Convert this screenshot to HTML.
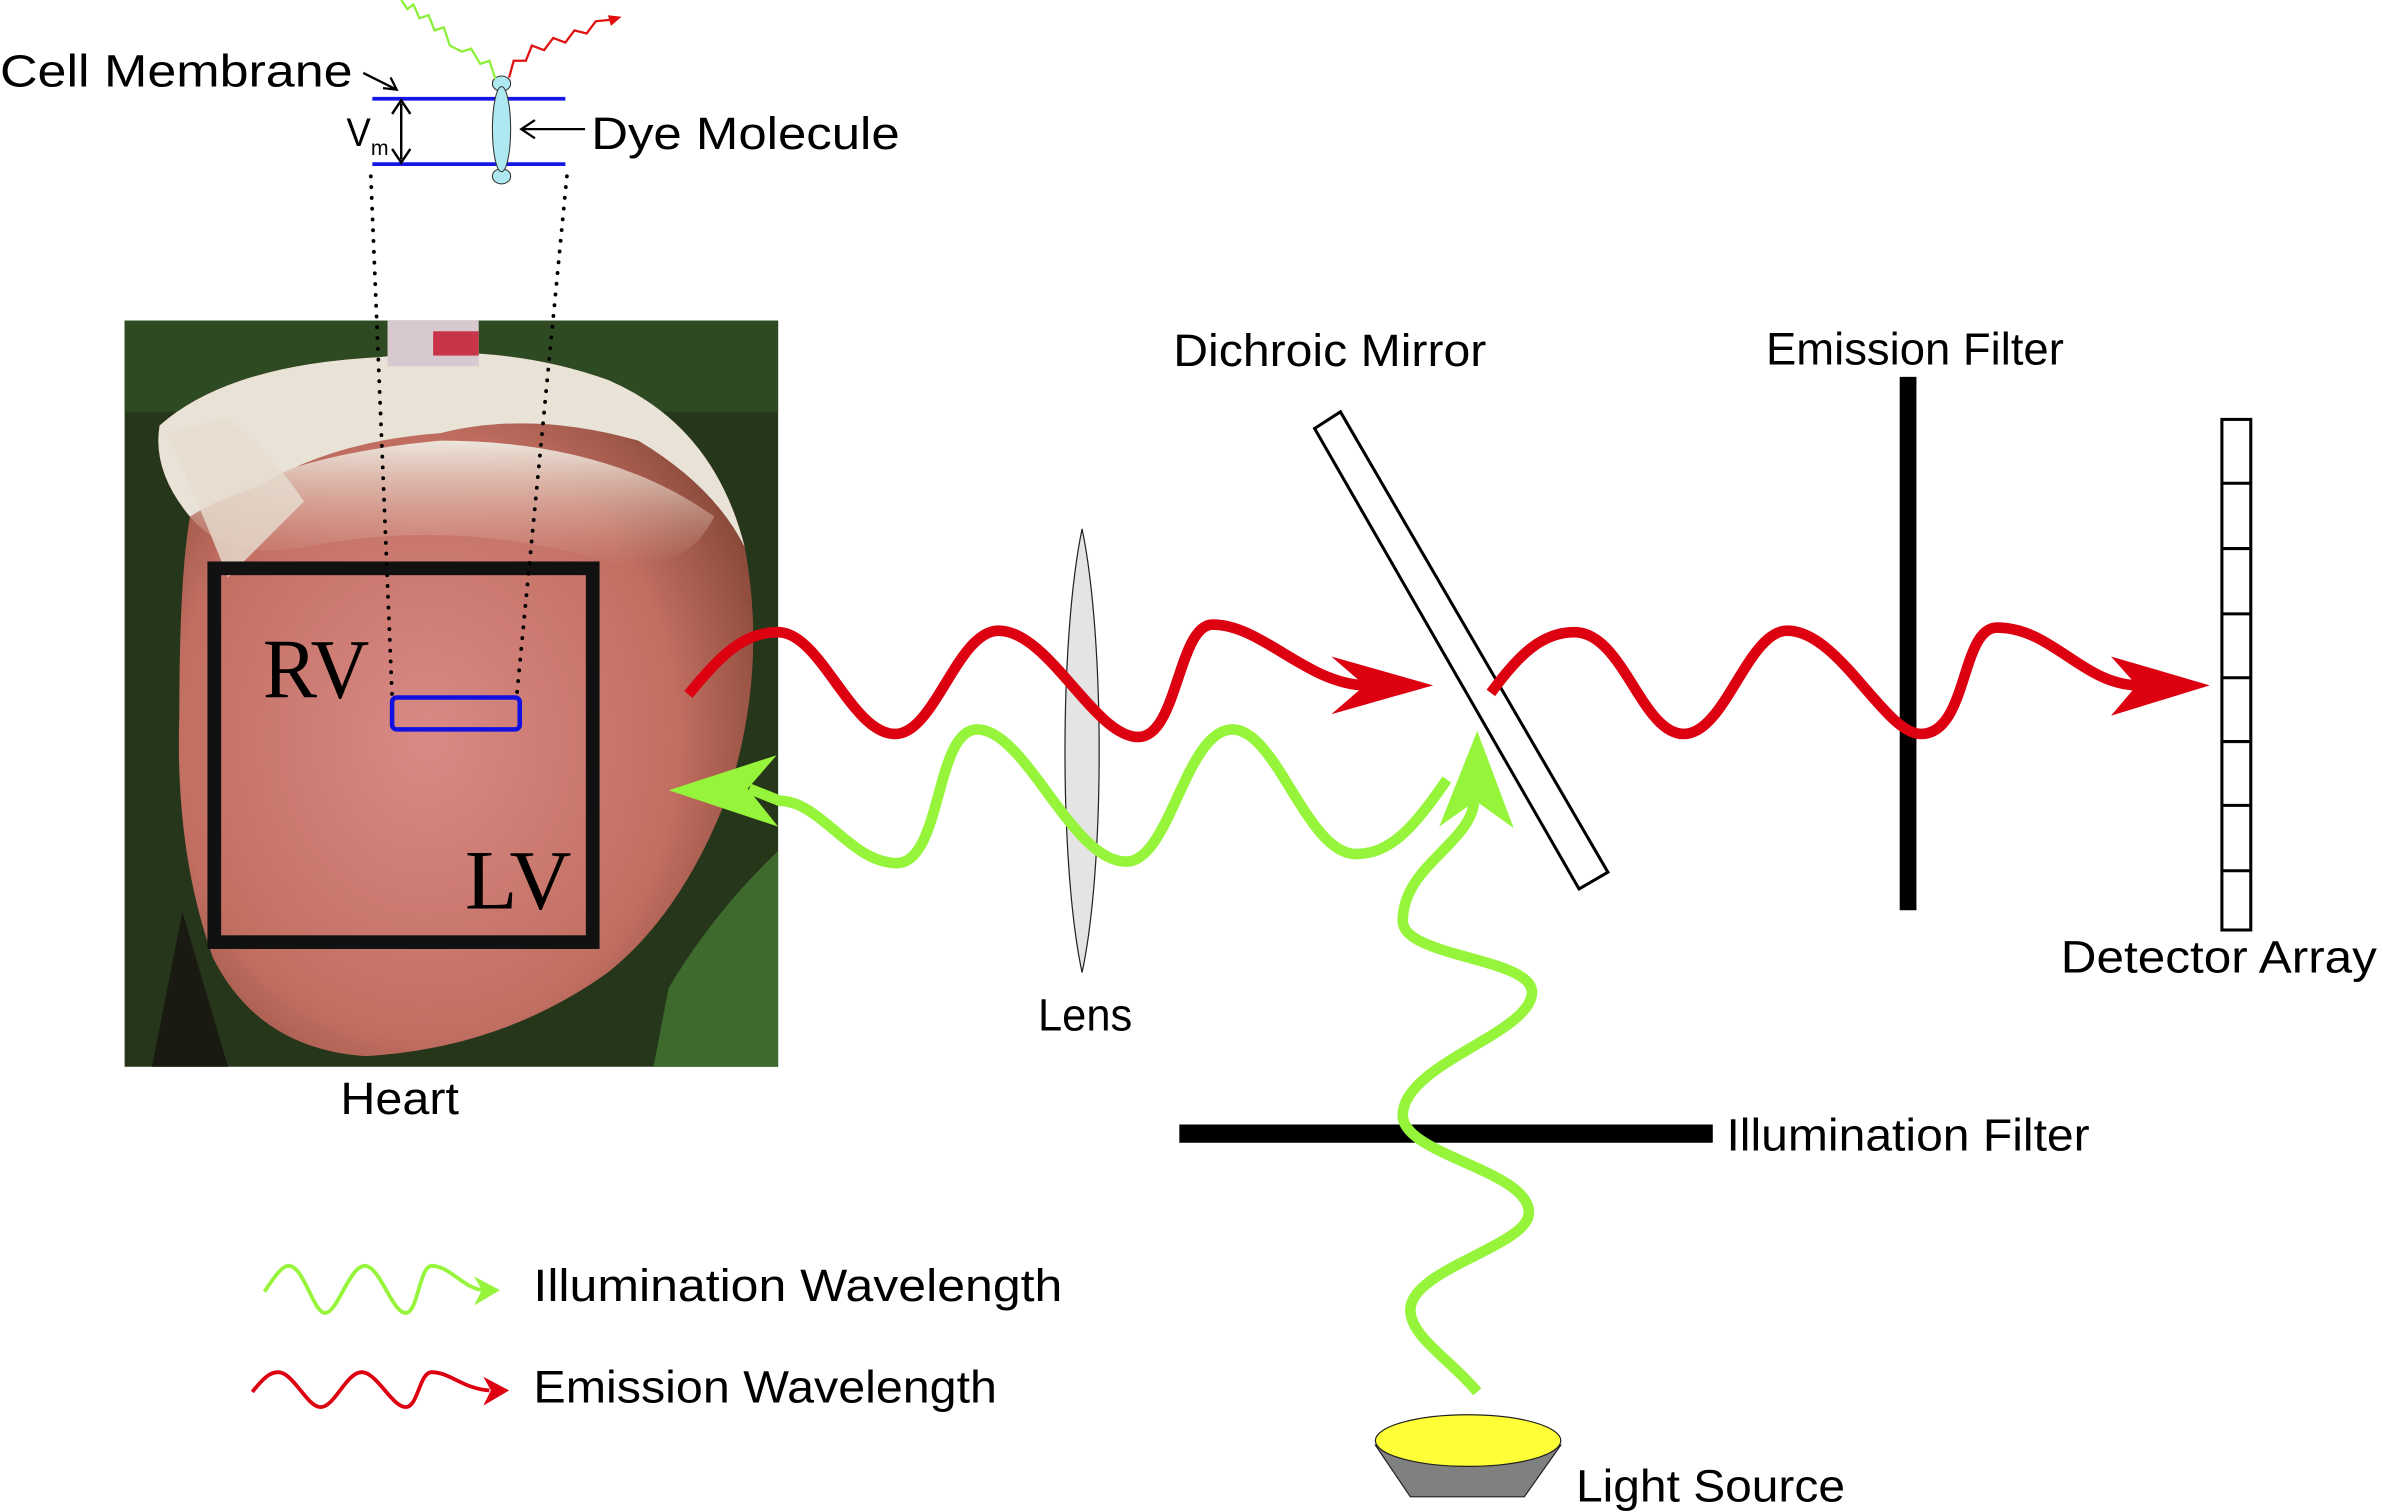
<!DOCTYPE html>
<html><head><meta charset="utf-8"><style>
html,body{margin:0;padding:0;background:#fff;}
svg{display:block;}
text{font-family:"Liberation Sans",sans-serif;fill:#000;}
</style></head><body>
<svg width="2383" height="1512" viewBox="0 0 1568 995" preserveAspectRatio="none" xmlns="http://www.w3.org/2000/svg">
<defs>
<radialGradient id="hg" cx="0.45" cy="0.55" r="0.6">
<stop offset="0" stop-color="#d98a86"/><stop offset="0.7" stop-color="#c26f62"/><stop offset="1" stop-color="#8a4a3a"/>
</radialGradient>
<linearGradient id="tg" x1="0" y1="0" x2="0" y2="1">
<stop offset="0" stop-color="#ece6dc"/><stop offset="1" stop-color="#e2b8a8" stop-opacity="0"/>
</linearGradient>
</defs>
<!-- heart photo -->
<rect x="82" y="211" width="430" height="491" fill="#26361a"/>
<rect x="82" y="211" width="430" height="60" fill="#2e4a22"/>
<path d="M440,650 Q470,600 512,560 L512,702 L430,702 Z" fill="#3f6a2e"/>
<path d="M120,600 L150,702 L100,702 Z" fill="#1a1a12"/>
<path d="M105,280 Q150,240 250,235 Q330,225 400,250 Q470,280 490,360 Q505,440 480,520 Q450,600 400,640 Q330,690 240,695 Q170,690 140,630 Q115,560 118,470 Q118,380 125,340 Q100,310 105,280 Z" fill="url(#hg)"/>
<path d="M105,280 Q150,240 250,235 Q330,225 400,250 Q470,280 490,360 Q470,320 420,290 Q350,270 290,285 Q220,290 170,320 Q140,330 125,340 Q100,310 105,280 Z" fill="#e9e2d6"/>
<path d="M125,340 Q180,300 290,290 Q400,290 470,340 Q450,380 400,370 Q300,340 200,360 Q150,370 125,340 Z" fill="url(#tg)"/>
<path d="M110,285 Q130,330 150,380 Q170,360 200,330 Q180,300 150,275 Z" fill="#e6ddd0" opacity="0.8"/>
<rect x="255" y="211" width="60" height="30" fill="#d8c8d0"/>
<rect x="285" y="218" width="30" height="16" fill="#c8344a"/>
<rect x="141" y="374" width="249" height="246" fill="none" stroke="#111" stroke-width="9"/>
<text x="173" y="459" style="font-family:'Liberation Serif',serif" font-size="56" textLength="70" lengthAdjust="spacingAndGlyphs" fill="#111">RV</text>
<text x="306" y="598" style="font-family:'Liberation Serif',serif" font-size="56" textLength="70" lengthAdjust="spacingAndGlyphs" fill="#111">LV</text>
<rect x="258" y="459" width="84" height="21" rx="3" fill="none" stroke="#1010e0" stroke-width="3"/>
<!-- dotted -->
<line x1="244" y1="116" x2="258" y2="458" stroke="#000" stroke-width="2.5" stroke-linecap="round" stroke-dasharray="0.1 7"/>
<line x1="373" y1="116" x2="340" y2="458" stroke="#000" stroke-width="2.5" stroke-linecap="round" stroke-dasharray="0.1 7"/>
<!-- membrane -->
<line x1="245" y1="65" x2="372" y2="65" stroke="#1515e6" stroke-width="2.5"/>
<line x1="245" y1="108" x2="372" y2="108" stroke="#1515e6" stroke-width="2.5"/>
<ellipse cx="330" cy="55" rx="6" ry="5" fill="#aee8f0" stroke="#333" stroke-width="0.7"/>
<ellipse cx="330" cy="116" rx="6" ry="5" fill="#aee8f0" stroke="#333" stroke-width="0.7"/>
<ellipse cx="330" cy="85" rx="6" ry="28" fill="#aee8f0" stroke="#333" stroke-width="0.7"/>
<path d="M264,68 L264,105 M258,75 L264,66 L270,75 M258,98 L264,107 L270,98" fill="none" stroke="#000" stroke-width="1.6"/>
<text x="228" y="96" font-size="26" textLength="16" lengthAdjust="spacingAndGlyphs">V</text>
<text x="244" y="102" font-size="14">m</text>
<path d="M239,48 L261,59 M252,58 L261,59 L257,51" fill="none" stroke="#000" stroke-width="1.5"/>
<path d="M385,85 L343,85 M352,79 L343,85 L352,91" fill="none" stroke="#000" stroke-width="1.5"/>
<text x="0" y="57" font-size="30" textLength="232" lengthAdjust="spacingAndGlyphs">Cell Membrane</text>
<text x="389" y="98" font-size="30" textLength="203" lengthAdjust="spacingAndGlyphs">Dye Molecule</text>
<path d="M264,0 L268,6 L272,3 L276,12 L282,10 L286,20 L292,18 L296,30 L304,34 L310,32 L316,42 L322,40 L326,52" fill="none" stroke="#8cf03a" stroke-width="1.5"/>
<path d="M335,51 L338,40 L346,40 L350,30 L358,33 L364,25 L372,28 L378,20 L386,22 L392,14 L402,13" fill="none" stroke="#e01010" stroke-width="1.5"/>
<polygon points="409,11 400,10 402,17" fill="#e01010"/>
<!-- lens -->
<path d="M712,348 C727,420 727,570 712,640 C697,570 697,420 712,348 Z" fill="#e4e4e4" stroke="#222" stroke-width="0.8"/>
<!-- mirror -->
<polygon points="865,282 882,271 1058,574 1039,585" fill="#fff" stroke="#000" stroke-width="2"/>
<!-- emission filter -->
<rect x="1250" y="248" width="11" height="351" fill="#000"/>
<!-- detector -->
<rect x="1462" y="276" width="19" height="336" fill="#fff" stroke="#000" stroke-width="2"/>
<path d="M1462,318H1481M1462,361H1481M1462,404H1481M1462,446H1481M1462,488H1481M1462,530H1481M1462,573H1481" stroke="#000" stroke-width="2"/>
<!-- illumination filter -->
<rect x="776" y="740" width="351" height="12" fill="#000"/>
<!-- light source -->
<polygon points="905,951 1027,951 1003,985 928,985" fill="#808080" stroke="#222" stroke-width="0.8"/>
<ellipse cx="966" cy="948" rx="61" ry="17" fill="#ffff38" stroke="#222" stroke-width="0.8"/>
<!-- waves -->
<g fill="none" stroke-width="7" stroke-linecap="butt">
<path stroke="#dc0010" d="M453,457 C475,430 490,416 512,416 C540,416 560,483 589,483 C615,483 630,415 657,415 C690,415 720,485 749,485 C775,485 775,411 798,411 C830,411 860,450 898,451"/>
<path stroke="#dc0010" d="M981,456 C1000,430 1015,416 1036,416 C1068,416 1080,483 1108,483 C1135,483 1150,415 1176,415 C1210,415 1240,483 1264,483 C1295,483 1290,413 1314,413 C1350,413 1370,450 1406,451"/>
<path stroke="#96f53a" d="M952,513 C930,545 915,562 892,562 C860,562 840,480 811,480 C780,480 770,567 741,567 C705,567 675,480 643,480 C615,480 620,568 590,568 C560,568 540,527 513,527 L493,519"/>
<path stroke="#96f53a" d="M972,916 C955,895 928,880 928,862 C928,835 1006,820 1006,798 C1006,770 923,760 923,734 C923,700 1008,680 1008,653 C1008,630 923,630 923,606 C923,570 968,555 970,527"/>
</g>
<polygon points="943,451 876,432 898,451 876,470" fill="#dc0010"/>
<polygon points="1454,451 1389,432 1406,451 1389,471" fill="#dc0010"/>
<polygon points="440,520 511,497 492,519 512,544" fill="#96f53a"/>
<polygon points="972,481 947,544 971,527 996,545" fill="#96f53a"/>
<!-- legend -->
<g fill="none" stroke-width="2.5">
<path stroke="#96f53a" d="M174,850 C182,838 186,833 190,833 C200,833 206,864 214,864 C222,864 230,833 240,833 C250,833 258,864 267,864 C275,864 276,833 284,833 C296,833 305,848 318,849"/>
<path stroke="#dc0010" d="M166,916 C174,906 178,903 183,903 C193,903 202,926 211,926 C220,926 228,903 238,903 C248,903 258,926 267,926 C275,926 276,903 284,903 C296,903 305,914 322,915"/>
</g>
<polygon points="329,849 312,840 317,849 312,859" fill="#96f53a"/>
<polygon points="335,915 318,906 323,915 318,925" fill="#dc0010"/>
<!-- labels -->
<text x="772" y="241" font-size="30" textLength="206" lengthAdjust="spacingAndGlyphs">Dichroic Mirror</text>
<text x="1162" y="240" font-size="30" textLength="196" lengthAdjust="spacingAndGlyphs">Emission Filter</text>
<text x="1356" y="640" font-size="30" textLength="208" lengthAdjust="spacingAndGlyphs">Detector Array</text>
<text x="683" y="678" font-size="30" textLength="62" lengthAdjust="spacingAndGlyphs">Lens</text>
<text x="224" y="733" font-size="30" textLength="78" lengthAdjust="spacingAndGlyphs">Heart</text>
<text x="1136" y="757" font-size="30" textLength="239" lengthAdjust="spacingAndGlyphs">Illumination Filter</text>
<text x="1037" y="988" font-size="30" textLength="177" lengthAdjust="spacingAndGlyphs">Light Source</text>
<text x="351" y="856" font-size="30" textLength="348" lengthAdjust="spacingAndGlyphs">Illumination Wavelength</text>
<text x="351" y="923" font-size="30" textLength="305" lengthAdjust="spacingAndGlyphs">Emission Wavelength</text>
</svg>
</body></html>
